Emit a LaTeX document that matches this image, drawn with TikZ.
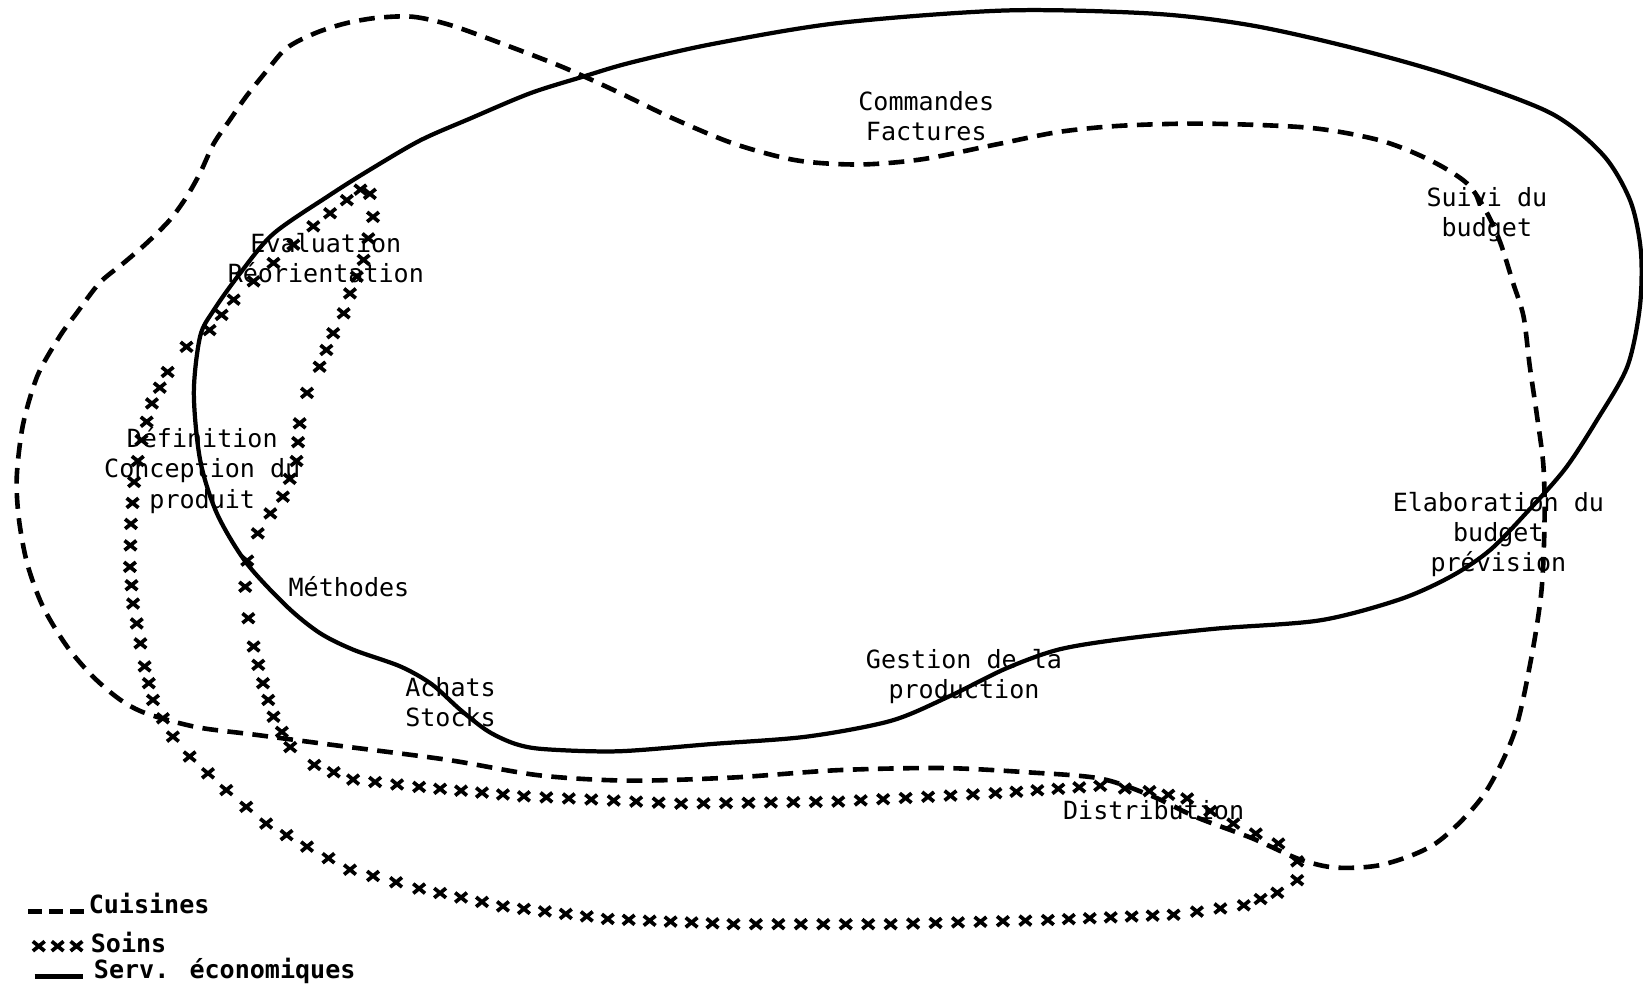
\documentclass[tikz,border=0pt]{standalone}
\usepackage{fontspec}
\newfontfamily\typefont{DejaVu Sans Mono}

\tikzset{
  lbl/.style={font=\typefont\fontsize{6.8}{8.2}\selectfont, align=center, inner sep=0pt},
  legendtext/.style={font=\typefont\bfseries\fontsize{6.8}{8.2}\selectfont, anchor=west, inner sep=0pt},
  cuisines/.style={line width=1.25pt, dash pattern=on 0.15cm off 0.09cm},
  eco/.style={line width=1.15pt},
  xmark/.style={line width=1pt},
}
% one small cross centred on a point
\newcommand\soinscross[2]{\draw[xmark] (#1,#2) +(-1.6pt,-1.3pt) -- +(1.6pt,1.3pt) +(-1.6pt,1.3pt) -- +(1.6pt,-1.3pt);}

\begin{document}
\begin{tikzpicture}[x=0.01cm, y=-0.01cm]
\useasboundingbox (0,0) rectangle (1568,949);

% Serv. economiques : solid loop
\draw[eco] plot[smooth cycle] coordinates {
  (191,439) (207,490) (235,537) (274,579) (305,604) (337,620) (382,636)
  (412,653) (440,678) (466,698) (492,710) (520,715) (590,717) (680,710) (770,703)
  (850,688) (905,665) (960,638) (1010,620) (1070,610) (1160,600) (1260,592)
  (1336,572) (1385,550) (1422,525) (1458,488) (1494,447) (1524,401)
  (1553,350) (1565,293) (1566,240) (1556,192) (1530,148) (1480,108)
  (1384,72) (1288,45) (1193,24) (1100,13) (960,10) (800,22) (680,42)
  (601,60) (557,73) (506,89) (449,113) (401,134) (353,162) (315,186)
  (261,223) (229,261) (204,296) (191,321) (185,375)};

% Cuisines : dashed loop
\draw[cuisines] plot[smooth cycle] coordinates {
  (360,17) (394,16) (430,24) (480,42) (537,64) (590,88) (640,112)
  (700,137) (760,153) (820,157) (880,152) (950,138) (1010,126) (1070,120)
  (1150,118) (1250,122) (1317,134) (1365,153) (1400,175) (1419,203)
  (1432,232) (1444,270) (1454,302) (1460,350) (1467,398) (1473,445)
  (1474,500) (1471,565) (1461,630) (1445,700) (1415,760) (1370,805)
  (1320,825) (1275,828) (1240,820) (1195,800) (1142,780) (1100,760)
  (1050,743) (980,737) (900,733) (800,735) (700,742) (600,745) (515,740)
  (426,725) (318,711) (242,701) (188,694) (140,681) (115,668) (89,646)
  (64,617) (41,579) (26,538) (18,495) (16,455) (22,405) (36,358) (57,321)
  (73,299) (95,270) (118,251) (140,232) (162,210) (178,188) (191,165)
  (204,137) (219,115) (235,92) (255,67) (270,49) (283,40) (305,30) (331,22)};

% Soins : loop of crosses, spaced evenly along each leg of the outline
\foreach \x/\y [remember=\x as \lx (initially 344), remember=\y as \ly (initially 181)] in {
  353/185, 356/207, 347/248, 334/280, 328/299, 318/318, 305/350,
  293/375, 286/404, 283/440, 270/474, 258/490, 246/509, 236/535,
  234/560, 237/590, 242/617, 251/652, 261/684, 277/713, 300/730,
  337/744, 400/751, 500/760, 650/767, 800/765, 950/757, 1050/750,
  1097/755, 1133/762, 1177/786, 1220/805, 1238/822, 1238/840, 1219/852,
  1187/864, 1120/873, 1000/878, 850/882, 700/882, 580/877, 480/865,
  400/848, 334/830, 293/808, 254/786, 216/754, 181/722, 165/703,
  146/668, 138/636, 134/614, 127/576, 124/541, 125/500, 128/460,
  135/420, 145/385, 160/355, 178/331, 200/315, 223/286, 261/251,
  299/216, 331/191, 344/181} {
  \pgfmathsetmacro\seglen{veclen(\x-\lx,\y-\ly)}
  \pgfmathtruncatemacro\nn{max(1,round(\seglen/21))}
  \foreach \k in {1,...,\nn} {
    \pgfmathsetmacro\px{\lx+(\x-\lx)*\k/\nn}
    \pgfmathsetmacro\py{\ly+(\y-\ly)*\k/\nn}
    \soinscross{\px}{\py}
  }
}

% Labels
\node[lbl] (cmd)   at (884,111)  {Commandes\\Factures};
\node[lbl] (suivi) at (1419,205) {Suivi du\\budget};
\node[lbl] (eval)  at (311,246)  {Evaluation\\Réorientation};
\node[lbl] (def)   at (193,449)  {Définition\\Conception du\\produit};
\node[lbl] (meth)  at (333,560)  {Méthodes};
\node[lbl] (achat) at (430,670)  {Achats\\Stocks};
\node[lbl] (gest)  at (920,646)  {Gestion de la\\production};
\node[lbl] (elab)  at (1430,510) {Elaboration du\\budget\\prévision};
\node[lbl] (distr) at (1101,773) {Distribution};

% Legend
\coordinate (lc1a) at (27,870);  \coordinate (lc1b) at (80,870);
\coordinate (lc3a) at (33,932);  \coordinate (lc3b) at (79,932);
\draw[cuisines, dash pattern=on 0.13cm off 0.07cm] (lc1a) -- (lc1b);
\foreach \lxp in {37,55,73} { \soinscross{\lxp}{903} }
\draw[eco] (lc3a) -- (lc3b);
\node[legendtext] (lg1) at (84,862) {Cuisines};
\node[legendtext] (lg2) at (86,899) {Soins};
\node[legendtext] (lg3) at (89,927) {Serv. économiques};
\end{tikzpicture}
\end{document}
